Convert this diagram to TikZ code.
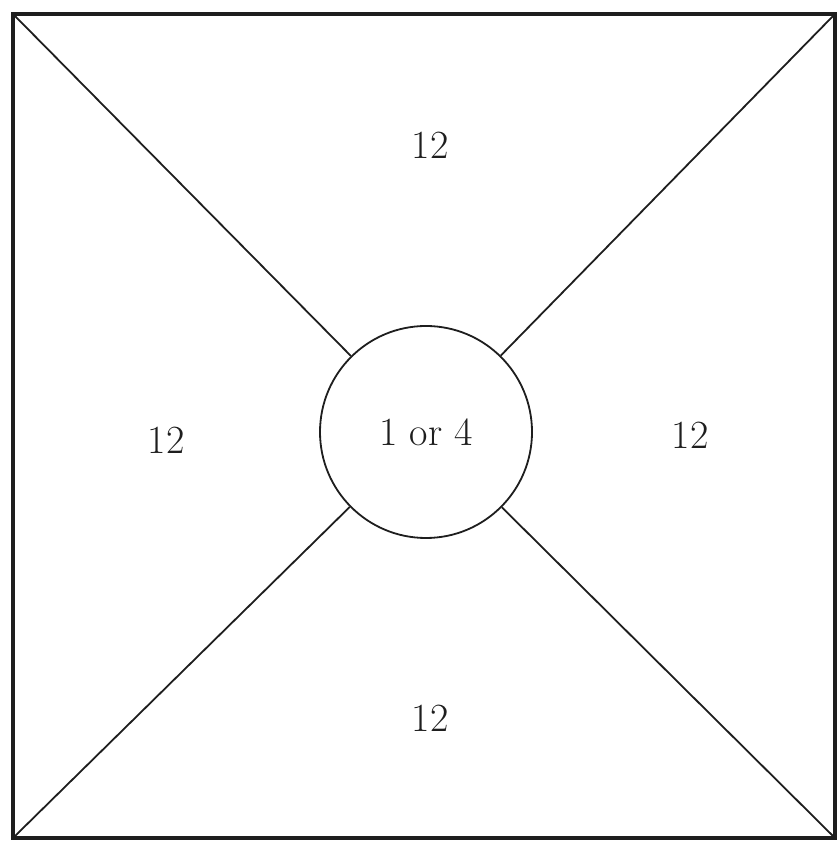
\documentclass[tikz,border=0pt]{standalone}
\usepackage{tikz}
\usetikzlibrary{calc}
\definecolor{cInk}{HTML}{1E1E1E}
\tikzset{
  frame/.style={draw=cInk, line width=3.5pt},
  spoke/.style={draw=cInk, line width=1.8pt},
  hub/.style={circle, draw=cInk, line width=1.8pt, minimum size=212pt, inner sep=0pt,
    font=\fontsize{40}{46}\selectfont, text=cInk},
  count/.style={font=\fontsize{40}{46}\selectfont, text=cInk},
}

\begin{document}
\begin{tikzpicture}[x=1pt, y=1pt]
    \useasboundingbox (0,0) rectangle (836,842);
    % --- outer square ---
    \coordinate (tl) at (13,828);
    \coordinate (tr) at (835,828);
    \coordinate (bl) at (13,4);
    \coordinate (br) at (835,4);
    \draw[frame] (bl) rectangle (tr);
    % --- centre ---
    \node[hub] (mid) at (426,410) {1 or 4};
    \draw[spoke] (tl) -- (mid);
    \draw[spoke] (tr) -- (mid);
    \draw[spoke] (bl) -- (mid);
    \draw[spoke] (br) -- (mid);
    % --- quarter counts ---
    \node[count] (top) at (430,697) {12};
    \node[count] (left) at (166,402) {12};
    \node[count] (right) at (690,407) {12};
    \node[count] (bottom) at (430,124) {12};
  \end{tikzpicture}
\end{document}
